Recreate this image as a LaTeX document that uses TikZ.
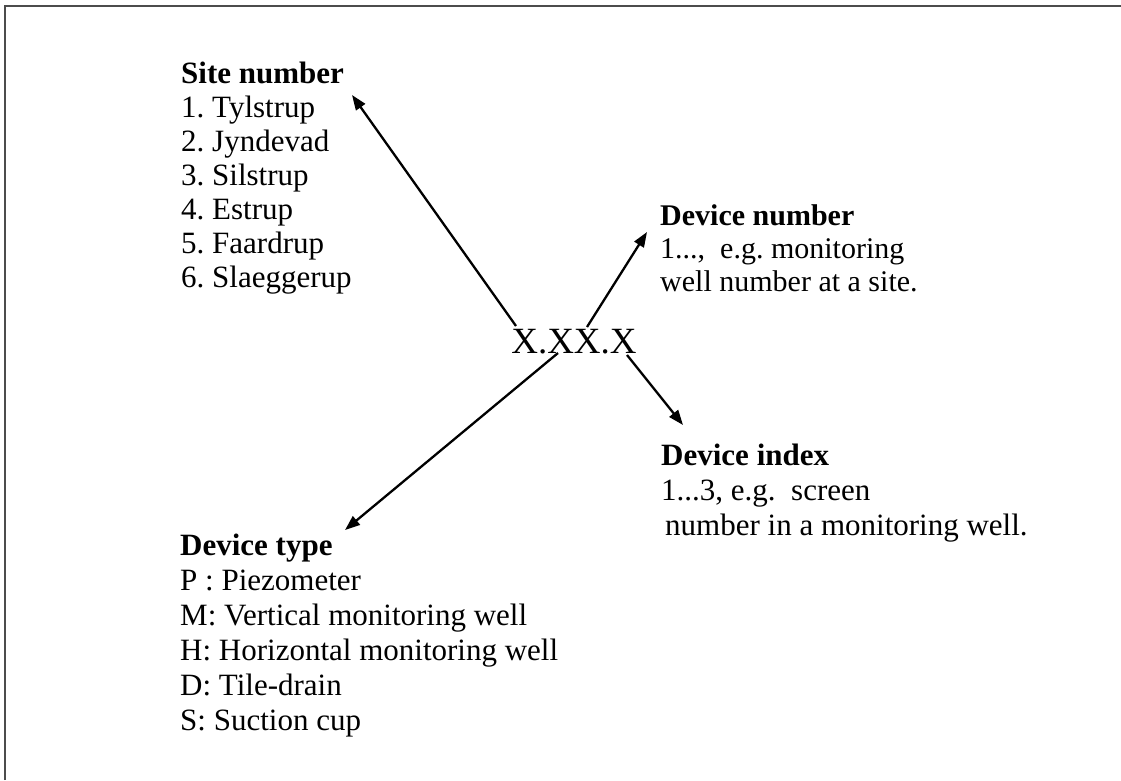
\documentclass[tikz,border=0pt]{standalone}
\usepackage{fontspec}
\setmainfont{Liberation Serif}
\usetikzlibrary{arrows.meta}
\frenchspacing
\begin{document}
\begin{tikzpicture}[x=1pt,y=-1pt,
  lbl/.style={anchor=base west,inner sep=0pt,font=\fontsize{31}{34}\selectfont},
  conn/.style={line width=2.3pt,-{Triangle[length=15pt,width=11pt]}},
  frame/.style={line width=1.5pt,black!70}]
\useasboundingbox (0,0) rectangle (1121,780);
\draw[frame] (5,780) -- (5,6) -- (1121,6);

\node[inner sep=0pt,anchor=base,font=\fontsize{37}{40}\selectfont] (code) at (574,353) {X.XX.X};

\node[lbl] (site) at (181,83) {\begin{tabular}[t]{@{}l@{}}
\textbf{Site number}\\
1. Tylstrup\\
2. Jyndevad\\
3. Silstrup\\
4. Estrup\\
5. Faardrup\\
6. Slaeggerup
\end{tabular}};

\node[lbl,font=\fontsize{30}{33}\selectfont] (number) at (660,225) {\begin{tabular}[t]{@{}l@{}}
\textbf{Device number}\\
1...,\ \ e.g. monitoring\\
well number at a site.
\end{tabular}};

\node[lbl,font=\fontsize{31}{35}\selectfont] (index) at (661,465) {\begin{tabular}[t]{@{}l@{}}
\textbf{Device index}\\
1...3, e.g.\ \ screen\\
\hspace{4pt}number in a monitoring well.
\end{tabular}};

\node[lbl,font=\fontsize{31}{35}\selectfont] (type) at (180,555) {\begin{tabular}[t]{@{}l@{}}
\textbf{Device type}\\
P : Piezometer\\
M: Vertical monitoring well\\
H: Horizontal monitoring well\\
D: Tile-drain\\
S: Suction cup
\end{tabular}};

\coordinate (s1) at ([shift={(-58,-27)}]code.base);
\coordinate (s2) at ([shift={(13,-26)}]code.base);
\coordinate (s3) at ([shift={(53,2)}]code.base);
\coordinate (s4) at ([shift={(-16,0)}]code.base);

\coordinate (t1) at ([shift={(171,12)}]site.base west);
\coordinate (t2) at ([shift={(-13,7)}]number.base west);
\coordinate (t3) at ([shift={(22,-40)}]index.base west);
\coordinate (t4) at ([shift={(165,-25)}]type.base west);

\draw[conn] (s1) -- (t1);
\draw[conn] (s2) -- (t2);
\draw[conn] (s3) -- (t3);
\draw[conn] (s4) -- (t4);
\end{tikzpicture}
\end{document}
